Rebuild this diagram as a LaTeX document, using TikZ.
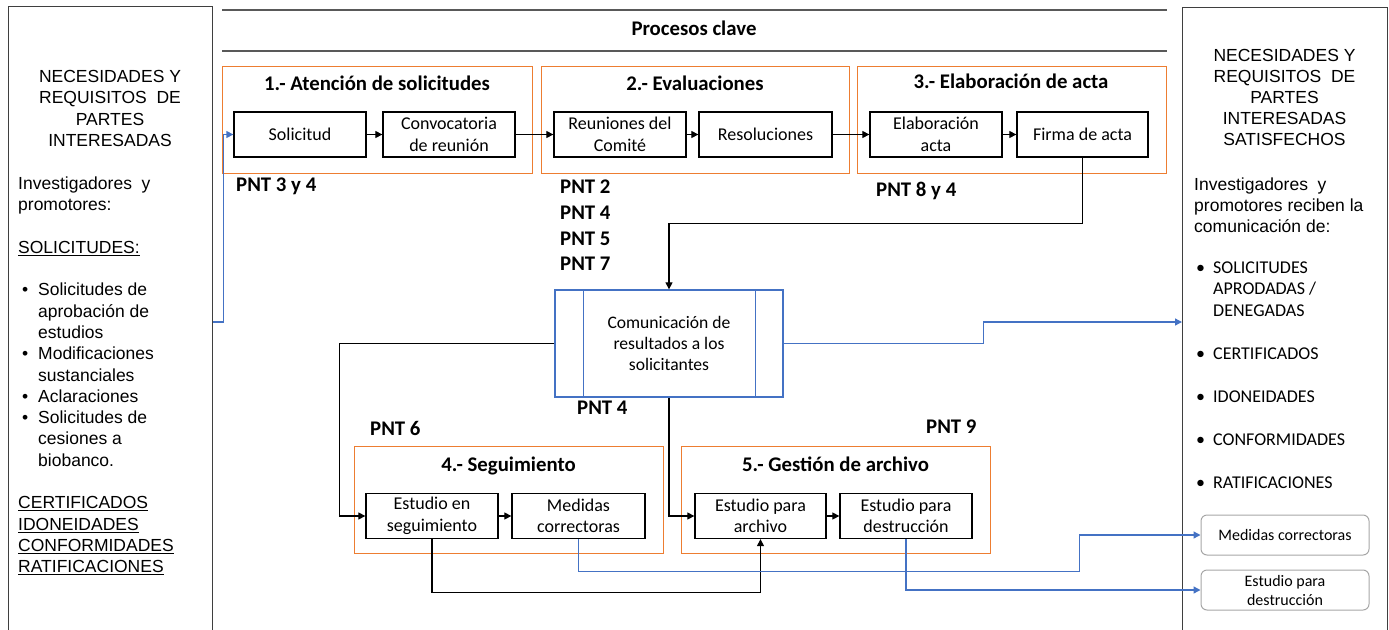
\documentclass[tikz,border=0pt]{standalone}
\usepackage{fontspec}
\setmainfont{Carlito}
\newfontfamily\arialf{Liberation Sans}
\usetikzlibrary{arrows.meta,calc}
\definecolor{procorange}{HTML}{ED7D31}
\definecolor{procblue}{HTML}{4472C4}
\definecolor{rulegray}{HTML}{595959}
\definecolor{edgegray}{HTML}{3F3F3F}
\definecolor{softgray}{HTML}{A6A6A6}

\begin{document}
\begin{tikzpicture}[x=1pt,y=-1pt,
  stepbox/.style={draw=black, line width=1.3pt, minimum width=132pt, minimum height=45pt,
    inner sep=1pt, align=center, font=\fontsize{18}{21.5}\selectfont},
  groupbox/.style={draw=procorange, line width=1.4pt, minimum width=310pt, minimum height=107pt,
    inner sep=0pt, anchor=north west},
  heading/.style={font=\bfseries\fontsize{20.8}{25}\selectfont, inner sep=0pt, anchor=base},
  pnt/.style={font=\bfseries\fontsize{20.8}{25}\selectfont, inner sep=0pt, anchor=base west},
  sidebox/.style={draw=edgegray, line width=1.3pt, anchor=north west, inner sep=0pt},
  sidetitle/.style={font=\arialf\fontsize{17.5}{21.2}\selectfont, align=center, inner sep=0pt},
  sidetext/.style={font=\arialf\fontsize{17.5}{21.3}\selectfont, align=left, inner sep=0pt, anchor=north west},
  outbox/.style={draw=softgray, line width=1pt, rounded corners=6pt, minimum width=168pt,
    minimum height=40pt, inner sep=1pt, align=center, font=\fontsize{16}{19}\selectfont},
  flow/.style={draw=black, line width=1.2pt, -{Triangle[length=7pt,width=7pt]}},
  bflow/.style={draw=procblue, line width=1.3pt, -{Triangle[length=7pt,width=7pt]}},
  rule/.style={draw=rulegray, line width=1.6pt}
]
\useasboundingbox (0,0) rectangle (1389,629);

% side panels (open at the bottom edge of the page)
\node[sidebox, minimum width=204pt, minimum height=660pt] (lside) at (8,6) {};
\node[sidebox, minimum width=205pt, minimum height=660pt] (rside) at (1182,7) {};

% left panel text
\node[sidetitle] (ltitle) at (110,108.5) {NECESIDADES Y\\REQUISITOS\ \ DE\\PARTES\\INTERESADAS};
\node[sidetext] (lbody) at (18,176.5) {%
  Investigadores\ \ y\\
  promotores:\\[21.3pt]
  \underline{SOLICITUDES:}\\[21.3pt]
  \makebox[20pt][l]{\hspace{4pt}•}Solicitudes de\\
  \hspace*{20pt}aprobación de\\
  \hspace*{20pt}estudios\\
  \makebox[20pt][l]{\hspace{4pt}•}Modificaciones\\
  \hspace*{20pt}sustanciales\\
  \makebox[20pt][l]{\hspace{4pt}•}Aclaraciones\\
  \makebox[20pt][l]{\hspace{4pt}•}Solicitudes de\\
  \hspace*{20pt}cesiones a\\
  \hspace*{20pt}biobanco.\\[21.3pt]
  \underline{CERTIFICADOS}\\
  \underline{IDONEIDADES}\\
  \underline{CONFORMIDADES}\\
  \underline{RATIFICACIONES}};

% right panel text
\node[sidetitle] (rtitle) at (1284.5,97.5) {NECESIDADES Y\\REQUISITOS\ \ DE\\PARTES\\INTERESADAS\\SATISFECHOS};
\node[sidetext] (rbody) at (1194,177.5) {%
  Investigadores\ \ y\\
  promotores reciben la\\
  comunicación de:};
\node[inner sep=0pt, anchor=north west, align=left, font=\fontsize{18}{21.5}\selectfont] (rlist) at (1194,261.5) {%
  \makebox[19pt][l]{\hspace{2pt}•}SOLICITUDES\\
  \hspace*{19pt}APRODADAS /\\
  \hspace*{19pt}DENEGADAS\\[21.5pt]
  \makebox[19pt][l]{\hspace{2pt}•}CERTIFICADOS\\[21.5pt]
  \makebox[19pt][l]{\hspace{2pt}•}IDONEIDADES\\[21.5pt]
  \makebox[19pt][l]{\hspace{2pt}•}CONFORMIDADES\\[21.5pt]
  \makebox[19pt][l]{\hspace{2pt}•}RATIFICACIONES};
\node[outbox] (rmed) at (1285,535) {Medidas correctoras};
\node[outbox] (rdest) at (1285,590) {Estudio para\\destrucción};

% header band
\draw[rule] (222,10) coordinate (band1) -- (1167,10) coordinate (band2);
\draw[rule] (222,51) coordinate (band3) -- (1167,51) coordinate (band4);
\node[heading] (band) at (694,35.7) {Procesos clave};

% process groups
\node[groupbox] (g1) at (222,66) {};
\node[groupbox, minimum width=308pt] (g2) at (541,66) {};
\node[groupbox, minimum width=309pt] (g3) at (857,66) {};
\node[groupbox, minimum width=309pt] (g4) at (354,446) {};
\node[groupbox, minimum width=309pt] (g5) at (681,446) {};

\node[heading] (h1) at (377,90.7) {1.- Atención de solicitudes};
\node[heading] (h2) at (695,90.7) {2.- Evaluaciones};
\node[heading] (h3) at (1011,88.7) {3.- Elaboración de acta};
\node[heading] (h4) at (508.5,471.7) {4.- Seguimiento};
\node[heading] (h5) at (835.5,471.7) {5.- Gestión de archivo};

% steps
\node[stepbox] (sol)   at (300,134.5)   {Solicitud};
\node[stepbox] (conv)  at (449,134.5)   {Convocatoria\\de reunión};
\node[stepbox] (reun)  at (620,134.5)   {Reuniones del\\Comité};
\node[stepbox, minimum width=133pt] (resol) at (765.5,134.5) {Resoluciones};
\node[stepbox] (elab)  at (936,134.5)   {Elaboración\\acta};
\node[stepbox, minimum width=131pt] (firma) at (1082.5,134.5) {Firma de acta};

\node[stepbox] (seg)   at (432,516)   {Estudio en\\seguimiento};
\node[stepbox, minimum width=133pt] (med) at (578.5,516) {Medidas\\correctoras};
\node[stepbox, minimum width=131pt] (arch) at (760.5,516) {Estudio para\\archivo};
\node[stepbox] (dest)  at (906,516)   {Estudio para\\destrucción};

% communication of results
\node[draw=procblue, line width=1.3pt, minimum width=228pt, minimum height=107pt, inner sep=0pt,
  align=center, font=\fontsize{17.6}{20.8}\selectfont] (comm) at (669,343.5)
  {Comunicación de\\resultados a los\\solicitantes};
\draw[draw=procblue, line width=1.1pt] ([xshift=29pt]comm.north west) -- ([xshift=29pt]comm.south west);
\draw[draw=procblue, line width=1.1pt] ([xshift=-28pt]comm.north east) -- ([xshift=-28pt]comm.south east);

% procedure references
\node[pnt] (pnt34) at (236,191.7) {PNT 3 y 4};
\node[pnt] (pnt2)  at (560,193.7) {PNT 2};
\node[pnt] (pnt4a) at (560,219.4) {PNT 4};
\node[pnt] (pnt5)  at (560,245.1) {PNT 5};
\node[pnt] (pnt7)  at (560,270.8) {PNT 7};
\node[pnt] (pnt84) at (876,196.7) {PNT 8 y 4};
\node[pnt] (pnt4b) at (577,414.7) {PNT 4};
\node[pnt] (pnt6)  at (370,435.2) {PNT 6};
\node[pnt] (pnt9)  at (926,433.7) {PNT 9};

% flow inside the groups
\draw[flow] (sol) -- (conv);
\draw[flow] (conv) -- (reun);
\draw[flow] (reun) -- (resol);
\draw[flow] (resol) -- (elab);
\draw[flow] (elab) -- (firma);
\draw[flow] (seg) -- (med);
\draw[flow] (arch) -- (dest);

% flow between groups
\draw[bflow] ([yshift=-316pt]lside.north east) -- ++(10,0) |- (sol.west);
\draw[flow] (firma.south) -- ++(0,66) -| (comm.north);
\draw[flow] (comm.west) -- ++(-215,0) |- (seg.west);
\draw[flow] (comm.south) |- (arch.west);
\draw[flow] (seg.south) -- ++(0,53) -| (arch.south);
\draw[bflow] (comm.east) -- ++(200,0) -- ++(0,-21.5) coordinate (commturn) -- (commturn -| rside.west);
\draw[bflow] (med.south) -- ++(0,32) -| ([xshift=-121pt]rmed.west) -- (rmed.west);
\draw[bflow] (dest.south) |- (rdest.west);
\end{tikzpicture}
\end{document}
